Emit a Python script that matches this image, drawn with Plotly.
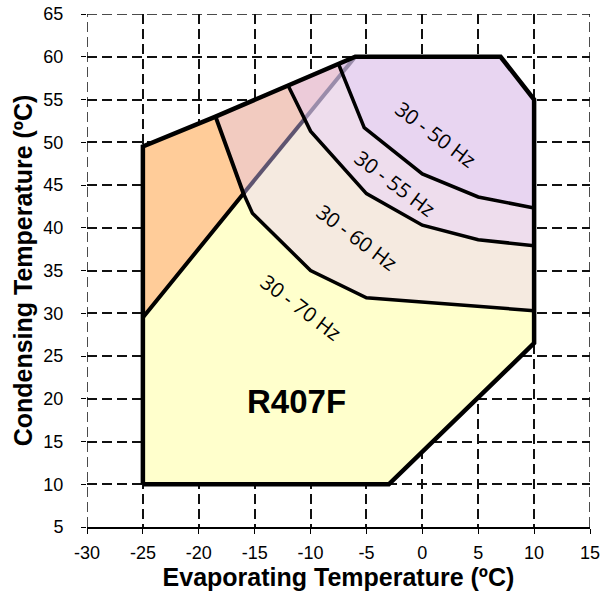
import plotly.graph_objects as go

# ---- data (°C) ----
outer_x = [-25, -3, 10, 10, 7, -6, -18.5, -25, -25]
outer_y = [10, 10, 26.5, 55, 60, 60, 53, 49.5, 10]

orange_edge_x = [-18.5, -16, -25]
orange_edge_y = [53, 44, 29.5]

b70_x = [-16, -15.2, -10, -5, 10]
b70_y = [44, 41.7, 35, 31.8, 30.3]

b60_x = [-12, -10, -5, 0, 5, 10]
b60_y = [56.6, 51.3, 44, 40.3, 38.6, 37.9]

b55_x = [-7.5, -5.2, 0, 5, 10]
b55_y = [59.15, 51.7, 46.3, 43.6, 42.3]

diag_x = [-16, -10.54, -7.18, -6]
diag_y = [44, 52.73, 58.11, 60]

zone_labels = ["30 - 50 Hz", "30 - 55 Hz", "30 - 60 Hz", "30 - 70 Hz"]
zone_lx = [1.2, -2.45, -5.85, -10.85]
zone_ly = [51.0, 45.2, 38.9, 30.7]
refrigerant = "R407F"

x_ticks = list(range(-30, 20, 5))
x_ticktext = [str(v) for v in x_ticks]
y_ticks = list(range(5, 70, 5))
y_ticktext = [str(v) for v in y_ticks]

# ---- build region polygons from boundary arrays ----
P1 = (diag_x[1], diag_y[1])
P2 = (diag_x[2], diag_y[2])

yellow = list(zip(outer_x[:3], outer_y[:3])) + [(b70_x[-1], b70_y[-1])] + \
    list(zip(b70_x[::-1], b70_y[::-1]))[1:] + [(orange_edge_x[2], orange_edge_y[2])]
orange = [(orange_edge_x[2], orange_edge_y[2]), (orange_edge_x[1], orange_edge_y[1]),
          (orange_edge_x[0], orange_edge_y[0]), (outer_x[7], outer_y[7])]
pink60 = [(outer_x[6], outer_y[6]), (diag_x[0], diag_y[0]), P1, (b60_x[0], b60_y[0])]
beige60 = list(zip(b70_x, b70_y)) + list(zip(b60_x[::-1], b60_y[::-1]))[:-1] + [P1]
pink55 = [(b60_x[0], b60_y[0]), P1, P2, (b55_x[0], b55_y[0])]
mid55 = [P1] + list(zip(b60_x[1:], b60_y[1:])) + list(zip(b55_x[::-1], b55_y[::-1]))[:-1] + [P2]
pink50 = [(b55_x[0], b55_y[0]), P2, (diag_x[3], diag_y[3])]
top50 = [P2] + list(zip(b55_x[1:], b55_y[1:])) + [(outer_x[3], outer_y[3]), (outer_x[4], outer_y[4]),
                                                   (outer_x[5], outer_y[5])]

regions = [
    (yellow, "#FFFFCC"),
    (orange, "#FFCC99"),
    (pink60, "#F2CBC0"),
    (beige60, "#F5EAE0"),
    (pink55, "#ECCBD9"),
    (mid55, "#EEDDED"),
    (pink50, "#DFC8E6"),
    (top50, "#E8D5F1"),
]

GRID_COLOR = "#111111"
GRID_W = 1.5
GRID_DASH = "10px,5px"

fig = go.Figure()

# edge grid lines (plotly omits grid lines lying on the plot edges)
grid_style = dict(color=GRID_COLOR, width=GRID_W, dash=GRID_DASH)
for xv in (x_ticks[0], x_ticks[-1]):
    fig.add_shape(type="line", xref="x", yref="y", x0=xv, x1=xv, y0=y_ticks[0], y1=y_ticks[-1],
                  line=grid_style, layer="below")
fig.add_shape(type="line", xref="x", yref="y", x0=x_ticks[0], x1=x_ticks[-1], y0=y_ticks[-1],
              y1=y_ticks[-1], line=grid_style, layer="below")

for poly, col in regions:
    xs = [p[0] for p in poly] + [poly[0][0]]
    ys = [p[1] for p in poly] + [poly[0][1]]
    fig.add_trace(go.Scatter(x=xs, y=ys, mode="lines", fill="toself", fillcolor=col,
                             line=dict(width=0, color=col), hoverinfo="skip", showlegend=False))

# translucent diagonal
fig.add_trace(go.Scatter(x=diag_x[:2], y=diag_y[:2], mode="lines",
                         line=dict(color="#5E5470", width=4), showlegend=False, hoverinfo="skip"))
fig.add_trace(go.Scatter(x=diag_x[1:], y=diag_y[1:], mode="lines",
                         line=dict(color="#9A8CAA", width=4), showlegend=False, hoverinfo="skip"))

# boundaries
for xs, ys, w in [(b70_x, b70_y, 3.5), (b60_x, b60_y, 3.5), (b55_x, b55_y, 3.5),
                  (orange_edge_x, orange_edge_y, 4), (outer_x, outer_y, 4.5)]:
    fig.add_trace(go.Scatter(x=xs, y=ys, mode="lines", line=dict(color="black", width=w),
                             showlegend=False, hoverinfo="skip"))

for t, x, y in zip(zone_labels, zone_lx, zone_ly):
    fig.add_annotation(x=x, y=y, text=t, showarrow=False, textangle=37,
                       font=dict(family="Open Sans", size=20.5, color="black"))
fig.add_annotation(x=-11.3, y=19.7, text="<b>%s</b>" % refrigerant, showarrow=False,
                   font=dict(family="Liberation Sans", size=33, color="black"))

axis_common = dict(showgrid=True, gridcolor=GRID_COLOR, gridwidth=GRID_W, griddash=GRID_DASH,
                   zeroline=False, ticks="outside", ticklen=5, tickcolor="black", automargin=False,
                   tickfont=dict(family="Liberation Sans", size=18, color="black"))
fig.update_xaxes(range=[-30, 15], tickvals=x_ticks, ticktext=x_ticktext, showline=True,
                 linecolor="black", linewidth=1.5, ticklabelstandoff=4,
                 title=dict(text="<b>Evaporating Temperature (ºC)</b>",
                            font=dict(family="Liberation Sans", size=25, color="black"), standoff=6),
                 **axis_common)
fig.update_yaxes(range=[5, 65], tickvals=y_ticks, ticktext=y_ticktext, showline=False,
                 ticklabelstandoff=14,
                 title=dict(text="<b>Condensing Temperature (ºC)</b>",
                            font=dict(family="Liberation Sans", size=25, color="black"), standoff=3),
                 **axis_common)
fig.update_layout(width=603, height=600, margin=dict(l=87, r=13, t=14, b=73),
                  plot_bgcolor="white", paper_bgcolor="white")
fig.write_html("out.html")
